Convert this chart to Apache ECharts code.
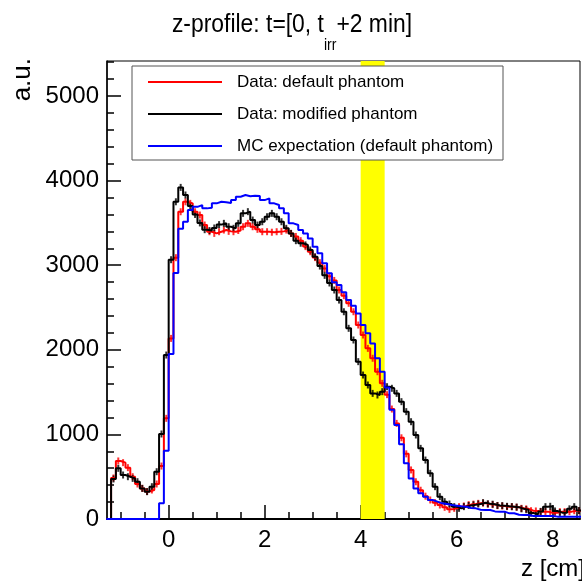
<!DOCTYPE html>
<html>
<head>
<meta charset="utf-8">
<script src="https://cdn.jsdelivr.net/npm/echarts@6/dist/echarts.min.js"></script>
<style>
  html, body { margin: 0; padding: 0; background: #fff; }
  #chart { width: 582px; height: 582px; }
</style>
</head>
<body>
<div id="chart"></div>
<script>
// Axis ranges
const Z_MIN = -1.285, Z_MAX = 8.57;
const Y_MAX = 5414;

// Histogram binning (cm)
const BIN_START = -1.3, BIN_WIDTH = 0.1;

// Tick positions
const xMajorTicks = [0, 2, 4, 6, 8];
const xMinorTicks = [-1, -0.5, 0.5, 1, 1.5, 2.5, 3, 3.5, 4.5, 5, 5.5, 6.5, 7, 7.5, 8.5];
const yMajorTicks = [0, 1000, 2000, 3000, 4000, 5000];
const yMinorTicks = [200, 400, 600, 800, 1200, 1400, 1600, 1800, 2200, 2400, 2600, 2800,
                     3200, 3400, 3600, 3800, 4200, 4400, 4600, 4800, 5200, 5400];

// Highlighted z window (cm)
const highlightWindow = [4.0, 4.5];

const seriesNames = ['Data: default phantom', 'Data: modified phantom', 'MC expectation (default phantom)'];
const seriesColors = ['#ff0000', '#000000', '#0000ff'];

// Bin contents, one value per 0.1 cm bin starting at z = -1.3
const dataDefault = [
  0, 485, 686, 666, 607, 500, 414, 362, 325, 343,
  414, 626, 1190, 2135, 3089, 3632, 3750, 3731, 3632, 3593,
  3475, 3396, 3376, 3396, 3416, 3400, 3396, 3410, 3455, 3495,
  3455, 3424, 3396, 3396, 3390, 3396, 3400, 3416, 3376, 3340,
  3290, 3220, 3160, 3090, 3030, 2960, 2870, 2820, 2707, 2640,
  2550, 2450, 2293, 2175, 2017, 1900, 1741, 1604, 1470, 1300,
  1130, 960, 770, 580, 440, 340, 270, 225, 193, 165,
  138, 114, 126, 146, 154, 170, 176, 185, 188, 175,
  170, 158, 154, 146, 146, 140, 126, 120, 98, 95,
  87, 87, 75, 75, 87, 87, 87, 98, 98
];
const dataModified = [
  0, 473, 599, 520, 500, 480, 441, 362, 323, 382,
  559, 1005, 1938, 3065, 3750, 3920, 3830, 3700, 3600, 3500,
  3420, 3410, 3440, 3480, 3495, 3455, 3436, 3495, 3613, 3633,
  3534, 3475, 3514, 3573, 3613, 3573, 3514, 3436, 3376, 3290,
  3260, 3240, 3180, 3100, 2990, 2880, 2790, 2707, 2588, 2450,
  2254, 2116, 1860, 1702, 1584, 1485, 1466, 1505, 1564, 1545,
  1485, 1387, 1269, 1150, 993, 835, 697, 540, 382, 264,
  205, 177, 146, 126, 146, 160, 168, 177, 193, 180,
  175, 160, 158, 150, 146, 140, 120, 110, 70, 55,
  90, 146, 150, 95, 75, 75, 120, 146, 100
];
const mcExpectation = [
  0, 0, 0, 0, 0, 0, 0, 0, 0, 0,
  0, 185, 808, 1950, 2908, 3431, 3514, 3652, 3690, 3711,
  3672, 3680, 3731, 3750, 3745, 3735, 3770, 3810, 3830, 3815,
  3822, 3818, 3770, 3790, 3731, 3711, 3672, 3613, 3495, 3475,
  3416, 3376, 3317, 3219, 3140, 3022, 2904, 2800, 2766, 2680,
  2588, 2520, 2430, 2293, 2195, 2076, 1900, 1741, 1555, 1290,
  1111, 885, 658, 480, 362, 303, 264, 225, 205, 185,
  177, 165, 158, 150, 146, 130, 126, 110, 106, 106,
  90, 87, 87, 67, 67, 50, 47, 47, 35, 35,
  35, 35, 35, 28, 28, 28, 28, 28, 28
];

const FONT = "'Liberation Sans', Arial, Helvetica, sans-serif";

function edge(i) { return Math.round((BIN_START + i * BIN_WIDTH) * 1000) / 1000; }

// Step outline: left edge of each bin, plus closing right edge
function stepPoints(vals) {
  const pts = vals.map((v, i) => [edge(i), v]);
  pts.push([edge(vals.length), vals[vals.length - 1]]);
  return pts;
}
// Error-bar markers at bin centres
function centrePoints(vals) {
  const pts = [];
  vals.forEach((v, i) => { if (v > 0) pts.push([edge(i) + BIN_WIDTH / 2, v]); });
  return pts;
}

function histSeries(name, vals, color) {
  return {
    name: name, type: 'line', step: 'end', data: stepPoints(vals),
    symbol: 'none', clip: true, animation: false,
    lineStyle: { color: color, width: 2 }, itemStyle: { color: color }
  };
}
function errSeries(vals, color) {
  return {
    type: 'scatter', data: centrePoints(vals), symbol: 'rect', symbolSize: [2, 7],
    itemStyle: { color: color }, silent: true, animation: false, clip: true
  };
}

// Thin horizontal bar used as legend key (outer moves fix the key's box height)
const LEGEND_KEY = 'path://M0,0 M0,9 L74,9 L74,11 L0,11 Z M74,20';

const chart = echarts.init(document.getElementById('chart'), null, { renderer: 'canvas' });

const tickLine = { color: '#000', width: 1.5 };
const plainNumber = v => String(v);

chart.setOption({
  backgroundColor: '#fff',
  animation: false,
  grid: {
    left: 107, right: 2, top: 61, bottom: 63,
    show: true, borderColor: '#000', borderWidth: 1, backgroundColor: 'transparent'
  },
  xAxis: [
    {
      type: 'value', min: Z_MIN, max: Z_MAX, position: 'bottom',
      axisLine: { show: true, onZero: false, lineStyle: { color: '#000', width: 2 } },
      axisTick: { show: true, inside: true, length: 14, lineStyle: tickLine, customValues: xMajorTicks },
      axisLabel: { show: true, customValues: xMajorTicks, formatter: plainNumber, margin: 9,
                   color: '#000', fontFamily: FONT, fontSize: 24 },
      splitLine: { show: false }
    },
    {
      type: 'value', min: Z_MIN, max: Z_MAX, position: 'bottom',
      axisLine: { show: false, onZero: false },
      axisTick: { show: true, inside: true, length: 7, lineStyle: tickLine, customValues: xMinorTicks },
      axisLabel: { show: false },
      splitLine: { show: false }
    }
  ],
  yAxis: [
    {
      type: 'value', min: 0, max: Y_MAX, position: 'left',
      axisLine: { show: true, onZero: false, lineStyle: { color: '#000', width: 1.5 } },
      axisTick: { show: true, inside: true, length: 14, lineStyle: tickLine, customValues: yMajorTicks },
      axisLabel: { show: true, customValues: yMajorTicks, formatter: plainNumber, margin: 8,
                   color: '#000', fontFamily: FONT, fontSize: 24 },
      splitLine: { show: false }
    },
    {
      type: 'value', min: 0, max: Y_MAX, position: 'left',
      axisLine: { show: false, onZero: false },
      axisTick: { show: true, inside: true, length: 7, lineStyle: tickLine, customValues: yMinorTicks },
      axisLabel: { show: false },
      splitLine: { show: false }
    }
  ],
  legend: {
    data: seriesNames.map(n => ({ name: n, icon: LEGEND_KEY })),
    orient: 'vertical', left: 148, top: 72,
    itemWidth: 74, itemHeight: 20, itemGap: 12, padding: 0,
    z: 20,
    textStyle: { fontFamily: FONT, fontSize: 17, color: '#000', padding: [0, 0, 0, 10] }
  },
  graphic: [
    {
      type: 'rect', z: 15, silent: true,
      shape: { x: 132, y: 66, width: 371, height: 94 },
      style: { fill: '#fff', stroke: '#555', lineWidth: 1 }
    },
    {
      // plot title with subscript
      type: 'text', z: 15, silent: true,
      x: 292, y: 12, scaleX: 0.88,
      style: {
        text: '{m|z-profile: t=[0, t}{s|irr}{m|+2 min]}',
        align: 'center', verticalAlign: 'top',
        rich: {
          m: { fontFamily: FONT, fontSize: 26, fill: '#000', verticalAlign: 'top' },
          s: { fontFamily: FONT, fontSize: 16, fill: '#000', lineHeight: 42, verticalAlign: 'bottom' }
        }
      }
    },
    {
      type: 'text', z: 15, silent: true,
      x: 23, y: 58, rotation: Math.PI / 2,
      style: { text: 'a.u.', font: '26px ' + FONT, fill: '#000', align: 'right', verticalAlign: 'middle' }
    },
    {
      type: 'text', z: 15, silent: true,
      x: 585, y: 569,
      style: { text: 'z [cm]', font: '24px ' + FONT, fill: '#000', align: 'right', verticalAlign: 'middle' }
    }
  ],
  series: [
    {
      type: 'line', data: [], silent: true,
      markArea: {
        silent: true,
        itemStyle: { color: '#ffff00', opacity: 1 },
        data: [[{ xAxis: highlightWindow[0] }, { xAxis: highlightWindow[1] }]]
      }
    },
    histSeries(seriesNames[0], dataDefault, seriesColors[0]),
    errSeries(dataDefault, seriesColors[0]),
    histSeries(seriesNames[1], dataModified, seriesColors[1]),
    errSeries(dataModified, seriesColors[1]),
    histSeries(seriesNames[2], mcExpectation, seriesColors[2])
  ]
});
</script>
</body>
</html>
